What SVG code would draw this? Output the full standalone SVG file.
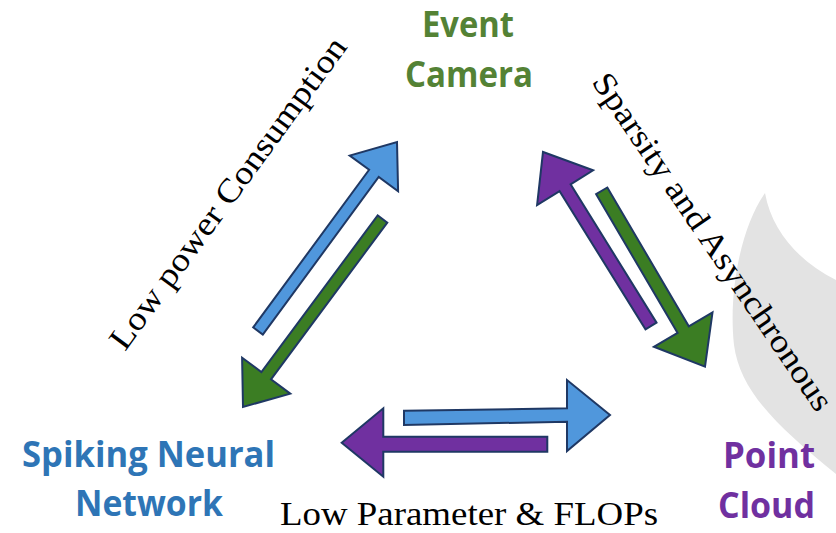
<svg xmlns="http://www.w3.org/2000/svg" width="836" height="533" viewBox="0 0 836 533">
  <style>
    .node { font-family: "Open Sans", "Liberation Sans", sans-serif; font-weight: bold; font-size: 35px; }
    .ev { fill: #548235; }
    .sn { fill: #2E75B6; }
    .pc { fill: #7030A0; }
    .lbl { font-family: "Liberation Serif", "Times New Roman", serif; font-size: 33px; fill: #000; }
    .arr { stroke: #1F3864; stroke-width: 2; stroke-linejoin: miter; }
    .blue { fill: #5097DC; }
    .green { fill: #3B7D23; }
    .purple { fill: #7030A0; }
  </style>
  <rect width="836" height="533" fill="#FFFFFF"/>
  <path id="backdrop" d="M765,193 C742,225 728,290 734,345 C740,390 775,425 836,474 L836,280 C800,262 772,232 765,193 Z" fill="#E3E3E3"/>

  <g id="connectors">
    <polygon class="arr blue" points="262.8,334.6 378.7,177.0 398.1,191.2 397,142 349.7,155.6 369.1,169.8 253.2,327.4"/>
    <polygon class="arr green" points="387.3,222.6 271.0,379.3 290.3,393.6 243,407 242.1,357.8 261.4,372.1 377.7,215.4"/>
    <polygon class="arr purple" points="656.5,322.6 570.6,184.3 593.1,170.3 543,152 537.1,205.1 559.6,191.1 645.5,329.4"/>
    <polygon class="arr green" points="607.3,187.5 688.8,326.3 712.5,312.4 705,366.7 653.9,346.8 677.6,332.9 596.1,194.1"/>
    <polygon class="arr blue" points="404,410.7 567,408.3 567,380 610,415 567,451 567,421.7 404,425"/>
    <polygon class="arr purple" points="547.3,436.7 383.3,436.7 383.3,408.3 341.7,442.7 383.3,476.7 383.3,451.7 547.3,451.7"/>
  </g>

  <g id="edge-labels">
    <text class="lbl" transform="translate(125,352) rotate(-53.8)" x="0" y="0" textLength="378" lengthAdjust="spacingAndGlyphs">Low power Consumption</text>
    <text class="lbl" transform="translate(591,82) rotate(55.75)" x="0" y="0" textLength="401" lengthAdjust="spacingAndGlyphs">Sparsity and Asynchronous</text>
    <text class="lbl" x="280" y="525" textLength="378" lengthAdjust="spacingAndGlyphs">Low Parameter &amp; FLOPs</text>
  </g>

  <g id="event-camera">
    <text class="node ev" x="422" y="37" textLength="92" lengthAdjust="spacingAndGlyphs">Event</text>
    <text class="node ev" x="405" y="87" textLength="128" lengthAdjust="spacingAndGlyphs">Camera</text>
  </g>
  <g id="spiking-neural-network">
    <text class="node sn" x="22" y="467" textLength="253" lengthAdjust="spacingAndGlyphs">Spiking Neural</text>
    <text class="node sn" x="75" y="516" textLength="148" lengthAdjust="spacingAndGlyphs">Network</text>
  </g>
  <g id="point-cloud">
    <text class="node pc" x="723" y="468" textLength="92" lengthAdjust="spacingAndGlyphs">Point</text>
    <text class="node pc" x="718" y="518" textLength="97" lengthAdjust="spacingAndGlyphs">Cloud</text>
  </g>
</svg>
